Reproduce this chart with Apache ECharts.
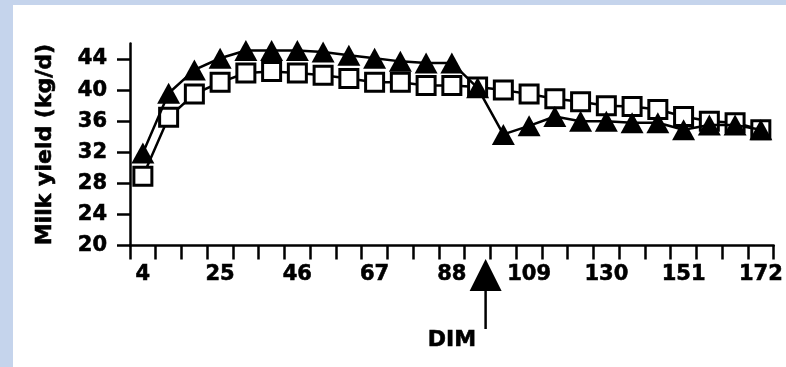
<!DOCTYPE html>
<html>
<head>
<meta charset="utf-8">
<script src="https://cdn.jsdelivr.net/npm/echarts@6/dist/echarts.min.js"></script>
<style>
	html, body { margin: 0; padding: 0; background: #c5d4ec; }
	#main { position: absolute; left: 13px; top: 5px; width: 773px; height: 362px; background: #fff; }
</style>
</head>
<body>
<div id="main"></div>
<script>
// days in milk (categories)
var days = [4, 11, 18, 25, 32, 39, 46, 53, 60, 67, 74, 81, 88, 95, 102, 109, 116, 123, 130, 137, 144, 151, 158, 165, 172];
// filled triangles
var triData = [31.9, 39.6, 42.6, 44.1, 45.1, 45.1, 45.1, 44.9, 44.5, 44.1, 43.7, 43.5, 43.5, 40.3, 34.3, 35.4, 36.6, 36.0, 36.0, 35.8, 35.8, 34.9, 35.5, 35.5, 34.9];
// open squares
var sqData = [28.9, 36.5, 39.5, 41.0, 42.2, 42.4, 42.2, 41.9, 41.5, 41.0, 41.0, 40.6, 40.6, 40.4, 40.0, 39.5, 38.9, 38.5, 38.0, 37.9, 37.5, 36.6, 36.0, 35.8, 34.9];
// y tick labels
var yTicks = [20, 24, 28, 32, 36, 40, 44];

var font = 'DejaVu Sans';
// bold text, a bit heavier like the scanned figure
var txt = { color: '#000', fontFamily: font, fontWeight: 'bold', textBorderColor: '#000', textBorderWidth: 0.6 };
var myChart = echarts.init(document.getElementById('main'));

var option = {
	animation: false,
	grid: { left: 117, right: 10, top: 38.5, bottom: 121.5 },
	xAxis: {
		type: 'category',
		data: days,
		boundaryGap: true,
		name: 'DIM',
		nameLocation: 'middle',
		nameGap: 84,
		nameTextStyle: Object.assign({ fontSize: 22 }, txt),
		axisLine: { lineStyle: { color: '#000', width: 2.5 } },
		axisTick: { show: true, interval: 0, length: 14, lineStyle: { color: '#000', width: 2.5 } },
		axisLabel: Object.assign({ interval: 2, margin: 19, fontSize: 21 }, txt),
		splitLine: { show: false }
	},
	yAxis: {
		type: 'value',
		min: 20,
		max: 46,
		name: 'Milk yield (kg/d)',
		nameLocation: 'middle',
		nameGap: 74,
		nameTextStyle: Object.assign({ fontSize: 22 }, txt),
		axisLine: { show: true, lineStyle: { color: '#000', width: 2.5 } },
		axisTick: { show: true, length: 13, customValues: yTicks, lineStyle: { color: '#000', width: 2.5 } },
		axisLabel: Object.assign({ margin: 23, customValues: yTicks, fontSize: 21 }, txt),
		splitLine: { show: false }
	},
	series: [
		{
			name: 'square',
			type: 'line',
			data: sqData,
			symbol: 'rect',
			symbolSize: 18,
			showAllSymbol: true,
			lineStyle: { color: '#000', width: 2.5 },
			itemStyle: { color: '#fff', borderColor: '#000', borderWidth: 3 },
			z: 2
		},
		{
			name: 'triangle',
			type: 'line',
			data: triData,
			symbol: 'triangle',
			symbolSize: [23, 21],
			showAllSymbol: true,
			lineStyle: { color: '#000', width: 2.5 },
			itemStyle: { color: '#000' },
			z: 3
		}
	]
};
myChart.setOption(option);

// arrow under the x axis, just after day 95
var ax = myChart.convertToPixel({ xAxisIndex: 0 }, 13) + 8;
myChart.setOption({
	graphic: [
		{
			type: 'polygon',
			shape: { points: [[ax, 254], [ax - 16, 286], [ax + 16, 286]] },
			style: { fill: '#000' }
		},
		{
			type: 'line',
			shape: { x1: ax, y1: 285, x2: ax, y2: 324 },
			style: { stroke: '#000', lineWidth: 2.5 }
		}
	]
});
</script>
</body>
</html>
